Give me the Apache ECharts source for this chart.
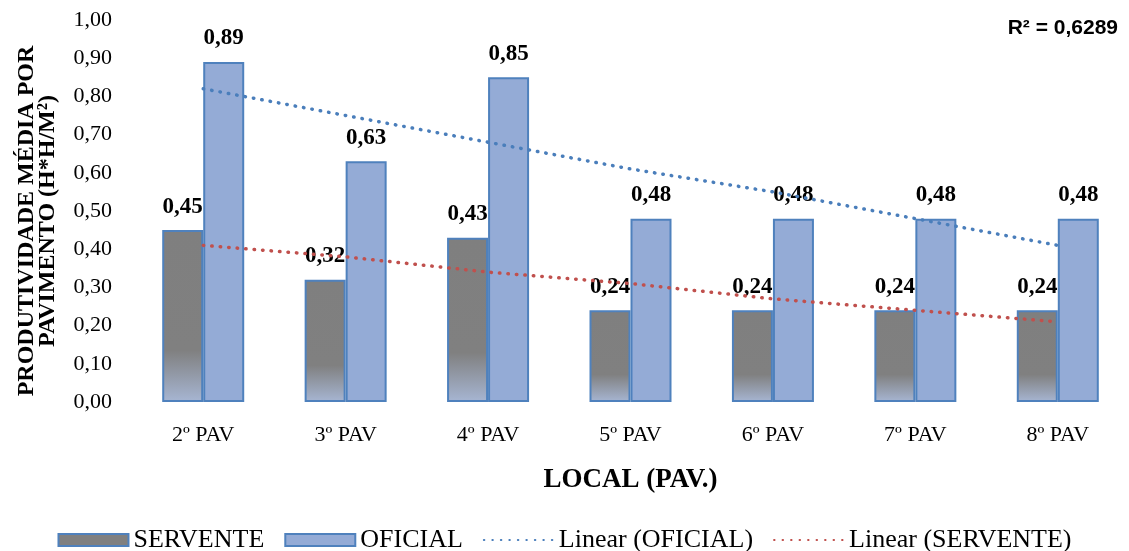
<!DOCTYPE html>
<html>
<head>
<meta charset="utf-8">
<script src="https://cdn.jsdelivr.net/npm/echarts@6/dist/echarts.min.js"></script>
<style>
  html, body { margin: 0; padding: 0; background: #fff; }
  #main { width: 1129px; height: 551px; }
</style>
</head>
<body>
<div id="main"></div>
<script>
// dados
const categorias = ["2º PAV", "3º PAV", "4º PAV", "5º PAV", "6º PAV", "7º PAV", "8º PAV"];
const servente = [0.45, 0.32, 0.43, 0.24, 0.24, 0.24, 0.24];
const oficial = [0.89, 0.63, 0.85, 0.48, 0.48, 0.48, 0.48];
// linhas de tendência
const linearOficial = [0.82, 0.75, 0.68, 0.61, 0.55, 0.48, 0.41];
const linearServente = [0.41, 0.38, 0.34, 0.31, 0.27, 0.24, 0.21];
const yTicks = { min: 0, max: 1, interval: 0.1 };

const serif = "'Liberation Serif', 'Times New Roman', serif";
const fmt = (v) => v.toFixed(2).replace(".", ",");

const chart = echarts.init(document.getElementById("main"));

const barLabel = {
  show: true,
  position: "top",
  distance: 12,
  formatter: (p) => fmt(p.value),
  fontFamily: serif,
  fontSize: 23,
  fontWeight: "bold",
  color: "#000",
};

const option = {
  animation: false,
  grid: { left: 132, right: -2, top: 20, bottom: 149, containLabel: false },
  legend: {
    top: 522,
    itemWidth: 70,
    itemHeight: 12,
    itemGap: 20,
    textStyle: { fontFamily: serif, fontSize: 26, color: "#000" },
    data: [
      { name: "SERVENTE", icon: "rect", itemStyle: { color: "#808080" } },
      { name: "OFICIAL", icon: "rect" },
      { name: "Linear (OFICIAL)", itemStyle: { opacity: 0 } },
      { name: "Linear (SERVENTE)", itemStyle: { opacity: 0 } },
    ],
  },
  graphic: [
    {
      type: "text",
      right: 11,
      top: 18,
      style: {
        text: "R² = 0,6289",
        font: "bold 21px 'Liberation Sans', Arial, sans-serif",
        fill: "#000",
      },
    },
  ],
  xAxis: {
    type: "category",
    data: categorias,
    axisLine: { show: false },
    axisTick: { show: false },
    axisLabel: { fontFamily: serif, fontSize: 22, color: "#000", margin: 22 },
    name: "LOCAL (PAV.)",
    nameLocation: "middle",
    nameGap: 65,
    nameTextStyle: { fontFamily: serif, fontSize: 27, fontWeight: "bold", color: "#000" },
  },
  yAxis: {
    type: "value",
    min: yTicks.min,
    max: yTicks.max,
    interval: yTicks.interval,
    splitLine: { show: false },
    axisLine: { show: false },
    axisTick: { show: false },
    axisLabel: { fontFamily: serif, fontSize: 22, color: "#000", margin: 20, formatter: fmt },
    name: "PRODUTIVIDADE MÉDIA POR\nPAVIMENTO (H*H/M²)",
    nameLocation: "middle",
    nameRotate: 90,
    nameGap: 74,
    nameTextStyle: {
      fontFamily: serif, fontSize: 24, fontWeight: "bold", color: "#000", lineHeight: 21,
      padding: [0, 20, 0, 0],
    },
  },
  series: [
    {
      name: "SERVENTE",
      type: "bar",
      data: servente,
      barWidth: 41,
      barGap: "0%",
      itemStyle: {
        color: new echarts.graphic.LinearGradient(0, 0, 0, 1, [
          { offset: 0, color: "#7f7f7f" },
          { offset: 0.7, color: "#808080" },
          { offset: 1, color: "#a7b6d3" },
        ]),
        borderColor: "#4f81bd",
        borderWidth: 2,
      },
      label: barLabel,
      z: 2,
    },
    {
      name: "OFICIAL",
      type: "bar",
      data: oficial,
      barWidth: 41,
      itemStyle: { color: "#94abd6", borderColor: "#4f81bd", borderWidth: 2 },
      label: barLabel,
      z: 2,
    },
    {
      name: "Linear (OFICIAL)",
      type: "line",
      data: linearOficial,
      symbol: "none",
      lineStyle: { color: "#4a7ebb", width: 3.5, type: [0.5, 8], cap: "round" },
      itemStyle: { color: "#4a7ebb" },
      z: 3,
    },
    {
      name: "Linear (SERVENTE)",
      type: "line",
      data: linearServente,
      symbol: "none",
      lineStyle: { color: "#c0504d", width: 3.5, type: [0.5, 8], cap: "round" },
      itemStyle: { color: "#c0504d" },
      z: 3,
    },
  ],
};

chart.setOption(option);
window.addEventListener("resize", () => chart.resize());
</script>
</body>
</html>
